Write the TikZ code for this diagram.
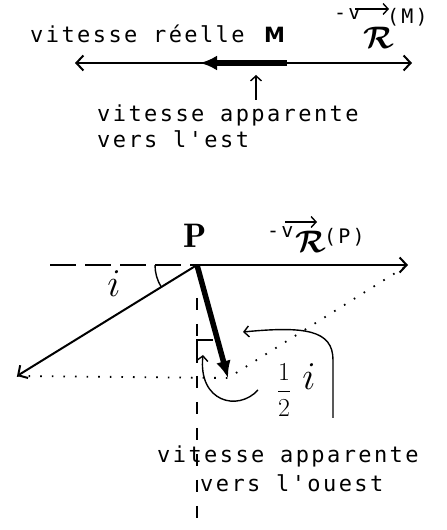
\documentclass[tikz,border=0pt]{standalone}
\usepackage{fontspec}
\usepackage{amsmath}
\usetikzlibrary{arrows.meta,positioning}
\newfontfamily\dotfont[LetterSpace=11]{DejaVu Sans Mono}
\newfontfamily\handfont{DejaVu Sans}

\begin{document}
\begin{tikzpicture}[
    x=1pt, y=1pt,
    lbl/.style={font=\dotfont\fontsize{22}{24}\selectfont, inner sep=0pt, anchor=base west},
    small/.style={font=\dotfont\fontsize{20}{21}\selectfont, inner sep=0pt, anchor=base west},
    sym/.style={inner sep=0pt, font=\fontsize{20}{20}\selectfont},
    ar/.style={line width=2pt, -{Straight Barb[length=7pt,width=15pt,line width=2pt]}},
    bigar/.style={line width=5.5pt, -{Latex[length=17pt,width=15pt]}},
    thin/.style={line width=1.4pt},
    tip/.style={thin, -{Straight Barb[length=5pt,width=11pt,line width=1.4pt]}},
    dotline/.style={line width=1.8pt, dash pattern=on 1.6pt off 10pt},
    dashline/.style={line width=1.6pt, dash pattern=on 26pt off 9pt},
    vline/.style={line width=1.4pt, dash pattern=on 12pt off 14pt},
  ]
    \useasboundingbox (0,0) rectangle (447,530);

    % top: point M
    \coordinate (mO) at (287,467);
    \coordinate (mW) at (75,467);
    \coordinate (mE) at (412,467);
    \coordinate (mApp) at (200,467);
    \coordinate (ptrA) at (256,430);
    \coordinate (ptrB) at (256,455);

    \node[lbl] (reel) at (30,487) {vitesse réelle};
    \node[inner sep=0pt, anchor=base west, font=\handfont\bfseries\fontsize{21}{22}\selectfont] (mlab) at (264,487) {M};
    \node[small] (vm) at (334,510) {-v};
    \node[sym, scale=1.5] (rm) at (379,492) {$\boldsymbol{\mathcal{R}}$};
    \node[small] (pm) at (387,506) {(M)};
    \node[lbl] (appE) at (97,408) {vitesse apparente};
    \node[lbl] (est) at (97,382) {vers l'est};

    \draw[ar] (mO) -- (mW);
    \draw[ar] (mO) -- (mE);
    \draw[bigar] (mO) -- (mApp);
    \draw[tip] (ptrA) -- (ptrB);
    \coordinate (arMa) at (355,521);
    \coordinate (arMb) at (389,521);
    \draw[tip] (arMa) -- (arMb);

    % bottom: point P
    \coordinate (P) at (197,265);
    \coordinate (pE) at (408,265);
    \coordinate (pW) at (17,154);
    \coordinate (pApp) at (228,152);
    \coordinate (hz) at (50,265);
    \coordinate (vt) at (197,232);
    \coordinate (vb) at (197,0);

    \node[sym, anchor=base, scale=1.7] (plab) at (195,282) {$\mathbf{P}$};
    \node[small] (vp) at (267,292) {-v};
    \node[sym, scale=1.5] (rp) at (311,288) {$\boldsymbol{\mathcal{R}}$};
    \node[small] (pp) at (324,286) {(P)};
    \coordinate (arPa) at (285,308);
    \coordinate (arPb) at (317,308);
    \node[sym, scale=1.9] (ilab) at (114,246) {$i$};
    \node[sym, scale=1.25] (half) at (284,140) {$\dfrac{1}{2}$};
    \node[sym, scale=1.9] (ihalf) at (309,153) {$i$};
    \node[lbl] (appO) at (157,67) {vitesse apparente};
    \node[lbl] (ouest) at (200,38) {vers l'ouest};

    \draw[dashline] (hz) -- (P);
    \draw[vline] (vt) -- (vb);
    \draw[dotline] (pW) -- (pApp) -- (pE);
    \draw[ar] (P) -- (pE);
    \draw[ar] (P) -- (pW);
    \draw[bigar] (P) -- (pApp);
    \draw[tip] (arPa) -- (arPb);

    \draw[thin] (P) ++(180:42) arc[start angle=180, end angle=211.7, radius=42];
    \draw[thin] (213,190) -- (197,190) -- (197,167);
    \draw[tip] (258,140) .. controls (238,118) and (198,128) .. (203,175);
    \draw[tip] (333,112) -- (333,170) .. controls (333,200) and (305,204) .. (243,198);
  \end{tikzpicture}
\end{document}
